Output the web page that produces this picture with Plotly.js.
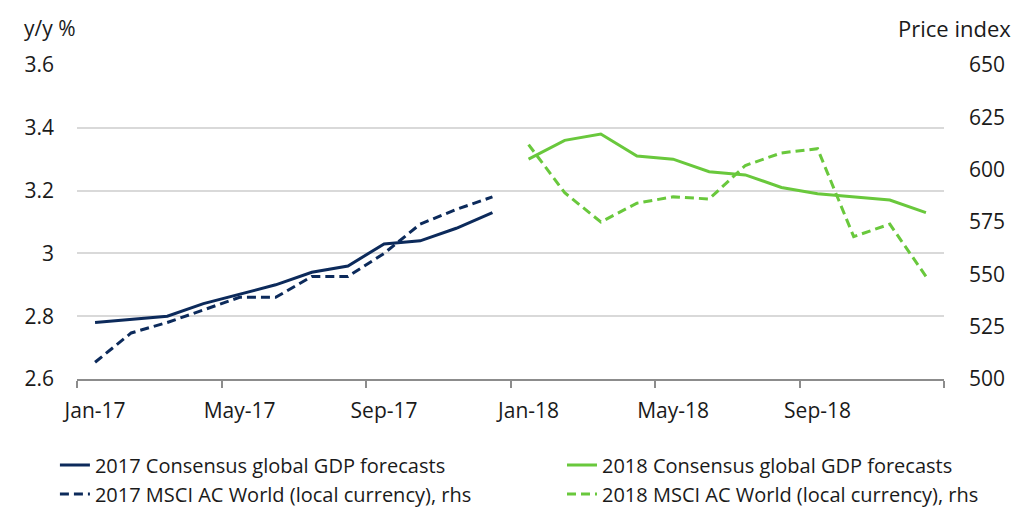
<!DOCTYPE html>
<html>
<head>
<meta charset="utf-8">
<script src="https://cdn.plot.ly/plotly-3.0.1.min.js"></script>
<style>html,body{margin:0;padding:0;background:#fff;}#chart{width:1017px;height:508px;}</style>
</head>
<body>
<div id="chart"></div>
<script>
var months = ["Jan-17","Feb-17","Mar-17","Apr-17","May-17","Jun-17","Jul-17","Aug-17","Sep-17","Oct-17","Nov-17","Dec-17",
              "Jan-18","Feb-18","Mar-18","Apr-18","May-18","Jun-18","Jul-18","Aug-18","Sep-18","Oct-18","Nov-18","Dec-18"];
var months2017 = months.slice(0, 12);
var months2018 = months.slice(12);
var gdp2017 = [2.78, 2.79, 2.80, 2.84, 2.87, 2.90, 2.94, 2.96, 3.03, 3.04, 3.08, 3.13];
var msci2017 = [508, 522, 527, 533, 539, 539, 549, 549, 560, 574, 581, 587];
var gdp2018 = [3.30, 3.36, 3.38, 3.31, 3.30, 3.26, 3.25, 3.21, 3.19, 3.18, 3.17, 3.13];
var msci2018 = [612, 589, 575, 584, 587, 586, 602, 608, 610, 568, 574, 549];
var tickLabels = ["Jan-17","May-17","Sep-17","Jan-18","May-18","Sep-18"];
var leftTicks = [2.6, 2.8, 3.0, 3.2, 3.4, 3.6];
var leftTickText = ["2.6","2.8","3","3.2","3.4","3.6"];
var rightTicks = [500, 525, 550, 575, 600, 625, 650];

var navy = "#0c2a5b";
var green = "#69c83c";
var font = "'Open Sans', 'Noto Sans', sans-serif";
var txt = "#1a1a1a";

var traces = [
  {x: months2017, y: gdp2017, name: "2017 Consensus global GDP forecasts", type: "scatter", mode: "lines",
   line: {color: navy, width: 3}, xaxis: "x", yaxis: "y", legend: "legend", legendgroup: "a"},
  {x: months2018, y: gdp2018, name: "2018 Consensus global GDP forecasts", type: "scatter", mode: "lines",
   line: {color: green, width: 3}, xaxis: "x", yaxis: "y", legend: "legend2", legendgroup: "b"},
  {x: months2017, y: msci2017, name: "2017 MSCI AC World (local currency), rhs", type: "scatter", mode: "lines",
   line: {color: navy, width: 3, dash: "9px,5px"}, xaxis: "x", yaxis: "y2", legend: "legend", legendgroup: "c"},
  {x: months2018, y: msci2018, name: "2018 MSCI AC World (local currency), rhs", type: "scatter", mode: "lines",
   line: {color: green, width: 3, dash: "9px,5px"}, xaxis: "x", yaxis: "y2", legend: "legend2", legendgroup: "d"},
  // empty helper trace so the boundary-tick axis is created
  {x: [null], y: [null], type: "scatter", mode: "lines", xaxis: "x2", yaxis: "y",
   showlegend: false, hoverinfo: "skip"}
];

// boundary tick positions (between categories), every 4 months
var boundaryTicks = [];
for (var i = 0; i <= months.length; i += 4) boundaryTicks.push(i - 0.5);

var legendCommon = {
  orientation: "v", xref: "container", xanchor: "left", yref: "paper", y: -0.212, yanchor: "top",
  font: {size: 20, family: font, color: txt}, tracegroupgap: 3, traceorder: "normal",
  bgcolor: "rgba(0,0,0,0)", borderwidth: 0
};

var layout = {
  width: 1017, height: 508,
  margin: {l: 77, r: 73, t: 65, b: 129, autoexpand: false},
  paper_bgcolor: "#ffffff", plot_bgcolor: "#ffffff",
  font: {family: font, color: txt, size: 20},
  showlegend: true,
  xaxis: {
    type: "category", categoryorder: "array", categoryarray: months,
    range: [-0.5, months.length - 0.5],
    tickmode: "array", tickvals: tickLabels, ticktext: tickLabels,
    ticks: "", showgrid: false, zeroline: false, showline: false,
    tickfont: {size: 21, family: font, color: txt},
    ticklabelstandoff: 17
  },
  xaxis2: {
    overlaying: "x", anchor: "y", side: "bottom", type: "linear",
    range: [-0.5, months.length - 0.5],
    tickmode: "array", tickvals: boundaryTicks,
    showticklabels: false, ticks: "outside", ticklen: 7, tickwidth: 2, tickcolor: "#8c8c8c",
    showline: true, linecolor: "#8c8c8c", linewidth: 2,
    showgrid: false, zeroline: false
  },
  yaxis: {
    range: [2.6, 3.6], tickmode: "array", tickvals: leftTicks, ticktext: leftTickText,
    showgrid: true, gridcolor: "#d9d9d9", gridwidth: 2, zeroline: false, showline: false,
    ticks: "", tickfont: {size: 21, family: font, color: txt}, ticklabelstandoff: 22
  },
  yaxis2: {
    overlaying: "y", side: "right", range: [500, 650], tickmode: "array", tickvals: rightTicks,
    showgrid: false, zeroline: false, showline: false, ticks: "",
    tickfont: {size: 21, family: font, color: txt}, ticklabelstandoff: 24
  },
  legend: Object.assign({}, legendCommon, {x: 0.054}),
  legend2: Object.assign({}, legendCommon, {x: 0.5526}),
  annotations: [
    {text: "y/y %", xref: "paper", yref: "paper", x: -0.064, y: 1.118, xanchor: "left", yanchor: "middle",
     showarrow: false, font: {size: 21, family: font, color: txt}},
    {text: "Price index", xref: "paper", yref: "paper", x: 1.08, y: 1.118, xanchor: "right", yanchor: "middle",
     showarrow: false, font: {size: 22, family: font, color: txt}}
  ]
};

Plotly.newPlot("chart", traces, layout, {displayModeBar: false, staticPlot: true});
</script>
</body>
</html>
